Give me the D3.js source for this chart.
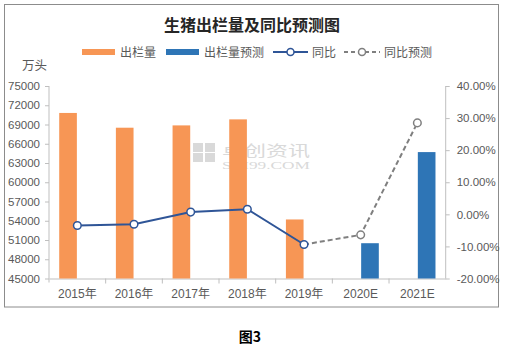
<!DOCTYPE html>
<html><head><meta charset="utf-8">
<script src="https://cdn.jsdelivr.net/npm/d3@7"></script>
<style>
html,body{margin:0;padding:0;background:#fff;}
svg{display:block;}
</style></head>
<body>
<svg id="c" width="505" height="351"></svg>
<script>
const categories = ["2015年","2016年","2017年","2018年","2019年","2020E","2021E"];
const output = [70800, 68500, 68860, 69800, 54200, null, null];
const outputForecast = [null, null, null, null, null, 50500, 64700];
const yoy = [-3.5, -3.1, 0.7, 1.6, -9.4, null, null];
const yoyForecast = [null, null, null, null, -9.4, -6.4, 28.5];
const leftTicks = [45000,48000,51000,54000,57000,60000,63000,66000,69000,72000,75000];
const rightTicks = [-20,-10,0,10,20,30,40];

const svg = d3.select("#c");
const L = 49, R = 445.7, T = 86, B = 278.5;
const fontNum = "'Liberation Sans','Noto Sans CJK SC',sans-serif";
const fontCJK = "'Noto Sans CJK SC',sans-serif";
const gray = "#595959";

// frame
svg.append("rect").attr("x",4.5).attr("y",4.5).attr("width",494).attr("height",302.5)
  .attr("fill","#fff").attr("stroke","#8c8c8c").attr("stroke-width",1);

const x = d3.scaleBand().domain(categories).range([L,R]).paddingInner(0).paddingOuter(0);
const xs = d3.scaleBand().domain(["a","b"]).range([0,x.bandwidth()]).paddingInner(0.05).paddingOuter(0.55);
const yL = d3.scaleLinear().domain([45000,75000]).range([B,T]);
const yR = d3.scaleLinear().domain([-20,40]).range([B,T]);

// watermark
const wm = svg.append("g").attr("fill","#d9d9d9");
[[0,0],[12,0],[0,10],[12,10]].forEach(([dx,dy])=>{
  wm.append("rect").attr("x",193+dx).attr("y",143+dy).attr("width",10).attr("height",9);
});
wm.append("text").attr("x",222).attr("y",155.5).attr("font-family",fontCJK).attr("font-size",15)
  .attr("textLength",88).attr("lengthAdjust","spacingAndGlyphs").text("卓创资讯");
wm.append("text").attr("x",222).attr("y",169).attr("font-family","'Liberation Serif',serif").attr("font-size",9.5)
  .attr("textLength",88).attr("lengthAdjust","spacingAndGlyphs").text("SCI99.COM");

// title
svg.append("text").attr("x",252).attr("y",31).attr("text-anchor","middle")
  .attr("font-family",fontCJK).attr("font-weight","bold").attr("font-size",16).attr("fill","#262626")
  .text("生猪出栏量及同比预测图");

// legend
const lg = svg.append("g").attr("font-family",fontCJK).attr("font-size",12).attr("fill",gray);
lg.append("rect").attr("x",82).attr("y",49).attr("width",33).attr("height",6).attr("fill","#F79655");
lg.append("text").attr("x",120).attr("y",56.5).text("出栏量");
lg.append("rect").attr("x",166).attr("y",49).attr("width",33).attr("height",6).attr("fill","#2E75B6");
lg.append("text").attr("x",204).attr("y",56.5).text("出栏量预测");
lg.append("line").attr("x1",273).attr("x2",308).attr("y1",52).attr("y2",52).attr("stroke","#2F5597").attr("stroke-width",2);
lg.append("circle").attr("cx",290.5).attr("cy",52).attr("r",3.5).attr("fill","#fff").attr("stroke","#2F5597").attr("stroke-width",1.5);
lg.append("text").attr("x",312).attr("y",56.5).text("同比");
lg.append("line").attr("x1",344).attr("x2",380).attr("y1",52).attr("y2",52).attr("stroke","#7f7f7f").attr("stroke-width",2).attr("stroke-dasharray","4,3");
lg.append("circle").attr("cx",362).attr("cy",52).attr("r",3.5).attr("fill","#fff").attr("stroke","#7f7f7f").attr("stroke-width",1.5);
lg.append("text").attr("x",384).attr("y",56.5).text("同比预测");

// unit
svg.append("text").attr("x",22).attr("y",70).attr("font-family",fontCJK).attr("font-size",12.5).attr("fill",gray).text("万头");

// axes
const axL = d3.axisLeft(yL).tickValues(leftTicks).tickSize(4).tickPadding(5).tickFormat(d3.format("d"));
const gL = svg.append("g").attr("transform",`translate(${L},0)`).call(axL);
const axR = d3.axisRight(yR).tickValues(rightTicks).tickSize(4).tickPadding(7).tickFormat(d=>d.toFixed(2)+"%");
const gR = svg.append("g").attr("transform",`translate(${R},0)`).call(axR);
const axB = d3.axisBottom(x).tickSize(0).tickPadding(11);
const gB = svg.append("g").attr("transform",`translate(0,${B})`).call(axB);
[gL,gR,gB].forEach(g=>{
  g.select(".domain").attr("stroke","#bfbfbf");
  g.selectAll(".tick line").attr("stroke","#bfbfbf");
  g.selectAll("text").attr("fill",gray).attr("font-family",fontNum).attr("font-size",11.5);
});
gL.select(".domain").attr("d",`M-0,${T}V${B+4}`);
gR.select(".domain").attr("d",`M0,${T}V${B}`);
gB.selectAll("text").attr("font-family",fontNum).attr("font-size",12);
// category separators
svg.append("g").selectAll("line").data(categories.slice(1)).join("line")
  .attr("x1",d=>x(d)).attr("x2",d=>x(d)).attr("y1",B).attr("y2",B+5).attr("stroke","#bfbfbf");

// bars
svg.append("g").selectAll("rect").data(categories.map((c,i)=>({c,v:output[i]})).filter(d=>d.v!=null)).join("rect")
  .attr("x",d=>x(d.c)+xs("a")).attr("width",xs.bandwidth())
  .attr("y",d=>yL(d.v)).attr("height",d=>B-yL(d.v)).attr("fill","#F79655");
svg.append("g").selectAll("rect").data(categories.map((c,i)=>({c,v:outputForecast[i]})).filter(d=>d.v!=null)).join("rect")
  .attr("x",d=>x(d.c)+xs("b")).attr("width",xs.bandwidth())
  .attr("y",d=>yL(d.v)).attr("height",d=>B-yL(d.v)).attr("fill","#2E75B6");

// lines
const cx = c=>x(c)+x.bandwidth()/2;
const line = d3.line().defined(d=>d.v!=null).x(d=>cx(d.c)).y(d=>yR(d.v));
const dF = categories.map((c,i)=>({c,v:yoyForecast[i]}));
const dA = categories.map((c,i)=>({c,v:yoy[i]}));
svg.append("path").attr("d",line(dF)).attr("fill","none").attr("stroke","#7f7f7f").attr("stroke-width",2).attr("stroke-dasharray","5,3");
svg.append("path").attr("d",line(dA)).attr("fill","none").attr("stroke","#2F5597").attr("stroke-width",2);
svg.append("g").selectAll("circle").data(dF.filter(d=>d.v!=null && yoy[categories.indexOf(d.c)]==null)).join("circle")
  .attr("cx",d=>cx(d.c)).attr("cy",d=>yR(d.v)).attr("r",3.8).attr("fill","#fff").attr("stroke","#7f7f7f").attr("stroke-width",1.5);
svg.append("g").selectAll("circle").data(dA.filter(d=>d.v!=null)).join("circle")
  .attr("cx",d=>cx(d.c)).attr("cy",d=>yR(d.v)).attr("r",3.8).attr("fill","#fff").attr("stroke","#2F5597").attr("stroke-width",1.5);

// caption
svg.append("text").attr("x",250).attr("y",342).attr("text-anchor","middle")
  .attr("font-family",fontCJK).attr("font-weight","bold").attr("font-size",14).attr("fill","#000").text("图3");
</script>
</body></html>
